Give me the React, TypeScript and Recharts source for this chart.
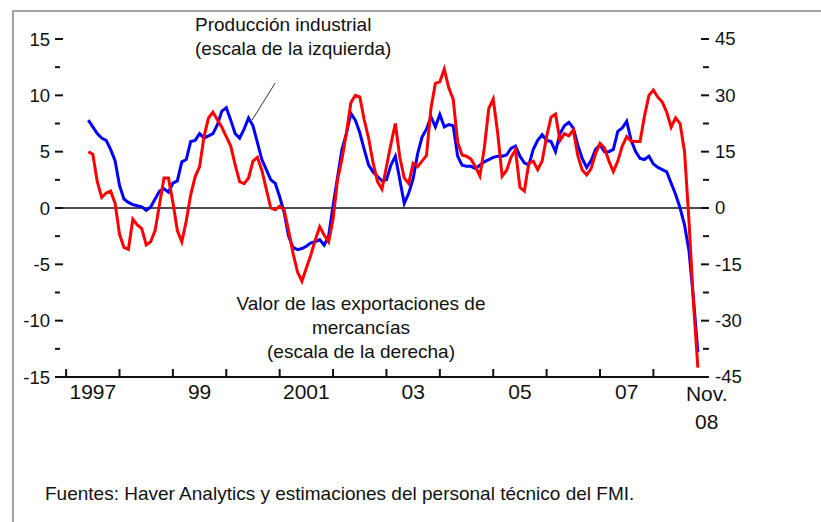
import React from 'react';
import { LineChart, Line, XAxis, YAxis, ReferenceLine } from 'recharts';

// months counted from January 1997 (0 = Jan 1997); series start in June 1997
const startMonth = 5;

// Producción industrial (escala de la izquierda), % interanual
const industrialProduction = [
  7.8, 7.2, 6.6, 6.2, 6.0, 5.2, 4.2,
  2.0, 0.8, 0.5, 0.3, 0.2, 0.1, -0.2, 0.1, 0.8, 1.5, 1.7, 1.4,
  2.2, 2.4, 4.1, 4.3, 5.9, 6.0, 6.6, 6.2, 6.4, 6.6, 7.4, 8.6,
  8.9, 7.8, 6.6, 6.2, 7.0, 8.0, 7.3, 5.8, 4.3, 3.4, 2.5, 2.2,
  1.0, -0.4, -2.5, -3.5, -3.7, -3.6, -3.4, -3.1, -3.0, -2.8, -3.3, -2.5,
  0.2, 2.7, 5.2, 6.6, 8.4, 7.8, 6.7, 5.2, 3.8, 3.2, 2.8, 2.4,
  2.5, 3.8, 4.6, 2.5, 0.4, 1.3, 2.6, 4.8, 6.3, 7.0, 8.1, 7.2,
  8.3, 7.2, 7.4, 7.3, 4.6, 3.8, 3.7, 3.7, 3.5, 3.8, 4.1, 4.3,
  4.5, 4.6, 4.6, 4.7, 5.3, 5.5, 4.6, 4.0, 3.8, 5.2, 6.0, 6.5,
  6.0, 5.9, 5.0, 6.6, 7.3, 7.6, 7.1, 5.6, 4.4, 3.6, 4.2, 5.2,
  5.6, 5.0, 5.0, 5.2, 6.8, 7.1, 7.7, 6.0, 5.0, 4.4, 4.3, 4.6,
  3.9, 3.6, 3.4, 3.2, 2.2, 1.2, 0.0, -1.5, -3.8, -8.0, -12.8,
];

// Valor de las exportaciones de mercancías (escala de la derecha)
const exportValue = [
  15.0, 14.3, 7.0, 2.8, 4.0, 4.5, 1.3,
  -7.0, -10.5, -11.0, -3.0, -4.5, -5.5, -9.8, -9.0, -6.0, 1.0, 8.0, 8.0,
  1.5, -6.0, -9.0, -3.5, 3.5, 8.3, 11.0, 19.0, 24.0, 25.5, 23.5, 21.5,
  19.0, 16.5, 11.5, 7.0, 6.5, 8.0, 12.5, 13.5, 10.0, 5.0, 0.0, -0.5,
  0.5, -0.5, -6.0, -12.0, -17.0, -19.5, -16.0, -12.5, -8.5, -5.0, -7.2, -9.0,
  -3.0, 7.5, 13.0, 20.0, 28.0, 30.0, 29.6, 23.5, 18.5, 12.0, 7.0, 5.0,
  11.0, 17.0, 22.5, 13.5, 8.0, 6.5, 11.9, 11.0, 12.5, 14.0, 26.5, 33.2,
  33.6, 37.0, 32.0, 29.0, 17.5, 14.1, 13.8, 13.0, 11.0, 8.5, 16.0, 26.5,
  29.0, 20.0, 8.5, 10.0, 13.5, 15.5, 5.5, 4.5, 12.0, 12.5, 10.2, 12.5,
  19.0, 24.2, 25.0, 18.0, 19.8, 19.2, 20.8, 14.0, 10.1, 8.8, 10.5, 14.5,
  17.2, 16.0, 12.5, 9.7, 12.5, 16.5, 19.0, 17.8, 17.7, 17.7, 24.5, 30.0,
  31.4, 29.5, 28.2, 25.5, 21.5, 24.0, 22.5, 15.0, -3.4, -25.2, -42.5,
];

// x-axis: year boundaries get tick marks, labels sit mid-year
const yearBoundaries = [0, 12, 24, 36, 48, 60, 72, 84, 96, 108, 120, 132];
const xLabels: { t: number; lines: string[] }[] = [
  { t: 6, lines: ['1997'] },
  { t: 30, lines: ['99'] },
  { t: 54, lines: ['2001'] },
  { t: 78, lines: ['03'] },
  { t: 102, lines: ['05'] },
  { t: 126, lines: ['07'] },
  { t: 144, lines: ['Nov.', '08'] },
];
const leftTicks = [-15, -12.5, -10, -7.5, -5, -2.5, 0, 2.5, 5, 7.5, 10, 12.5, 15];
const rightTicks = [-45, -37.5, -30, -22.5, -15, -7.5, 0, 7.5, 15, 22.5, 30, 37.5, 45];

const data = industrialProduction.map((v, i) => ({
  t: startMonth + i,
  ip: v,
  ex: exportValue[i],
}));

const xTickValues = Array.from(
  new Set([...yearBoundaries, ...xLabels.map((l) => l.t)])
).sort((a, b) => a - b);

const FONT = '"Liberation Sans", Arial, Helvetica, sans-serif';
const INK = '#111';

const XTick = (props: any) => {
  const { x, y, payload } = props;
  const v = payload.value;
  const isBoundary = yearBoundaries.includes(v);
  const lab = xLabels.find((l) => l.t === v);
  const twoLine = lab && lab.lines.length > 1;
  return (
    <g>
      {isBoundary && (
        <line x1={x} x2={x} y1={y} y2={y - 8} stroke={INK} strokeWidth={2} />
      )}
      {lab &&
        lab.lines.map((s, i) => (
          <text
            key={i}
            x={x}
            y={y + (twoLine ? 24 : 22) + i * 28}
            textAnchor="middle"
            fontSize={21}
            fontFamily={FONT}
            fill={INK}
          >
            {s}
          </text>
        ))}
    </g>
  );
};

const LeftTick = (props: any) => {
  const { x, y, payload } = props;
  const v = payload.value;
  const major = v % 5 === 0;
  return (
    <g>
      <line x1={x} x2={x + (major ? 8 : 5)} y1={y} y2={y} stroke={INK} strokeWidth={2} />
      {major && (
        <text x={x - 5} y={y} dy="0.36em" textAnchor="end" fontSize={18.5} fontFamily={FONT} fill={INK}>
          {String(v)}
        </text>
      )}
    </g>
  );
};

const RightTick = (props: any) => {
  const { x, y, payload } = props;
  const v = payload.value;
  const major = v % 15 === 0;
  return (
    <g>
      <line x1={x - (major ? 8 : 6)} x2={x} y1={y} y2={y} stroke={INK} strokeWidth={2} />
      {major && (
        <text x={x + 6} y={y} dy="0.34em" textAnchor="start" fontSize={18.5} fontFamily={FONT} fill={INK}>
          {String(v)}
        </text>
      )}
    </g>
  );
};

const textStyle: React.CSSProperties = {
  position: 'absolute',
  fontFamily: FONT,
  color: INK,
  whiteSpace: 'nowrap',
};

export default function App() {
  return (
    <div
      style={{
        position: 'absolute',
        left: 0,
        top: 0,
        width: 821,
        height: 522,
        overflow: 'hidden',
        background: '#fff',
      }}
    >
      <div
        style={{
          position: 'absolute',
          left: 12,
          top: 10,
          width: 840,
          height: 540,
          borderTop: '2px solid #a3a3a3',
          borderLeft: '2px solid #a3a3a3',
        }}
      />
      <div style={{ position: 'absolute', left: 0, top: 0 }}>
        <LineChart
          width={821}
          height={522}
          data={data}
          margin={{ top: 39, right: 0, left: 0, bottom: 85 }}
        >
          <XAxis
            dataKey="t"
            type="number"
            domain={[-2.5, 144.5]}
            ticks={xTickValues}
            interval={0}
            tick={<XTick />}
            tickLine={false}
            tickSize={0}
            tickMargin={0}
            axisLine={{ stroke: INK, strokeWidth: 2 }}
            height={60}
          />
          <YAxis
            yAxisId="left"
            domain={[-15, 15]}
            ticks={leftTicks}
            interval={0}
            tick={<LeftTick />}
            tickLine={false}
            tickSize={0}
            tickMargin={0}
            axisLine={false}
            width={55}
          />
          <YAxis
            yAxisId="right"
            orientation="right"
            domain={[-45, 45]}
            ticks={rightTicks}
            interval={0}
            tick={<RightTick />}
            tickLine={false}
            tickSize={0}
            tickMargin={0}
            axisLine={false}
            width={112}
          />
          <ReferenceLine yAxisId="left" y={0} stroke={INK} strokeWidth={1.5} />
          <ReferenceLine
            yAxisId="left"
            segment={[
              { x: 41.8, y: 7.8 },
              { x: 47, y: 11.1 },
            ]}
            stroke="#333"
            strokeWidth={1}
          />
          <Line
            yAxisId="left"
            dataKey="ip"
            type="linear"
            stroke="#0000ff"
            strokeWidth={3}
            dot={false}
            isAnimationActive={false}
          />
          <Line
            yAxisId="right"
            dataKey="ex"
            type="linear"
            stroke="#ff0000"
            strokeWidth={3}
            dot={false}
            isAnimationActive={false}
          />
        </LineChart>
      </div>
      <div style={{ ...textStyle, left: 195, top: 13, fontSize: 19, lineHeight: '24px', textAlign: 'left' }}>
        Producción industrial
        <br />
        (escala de la izquierda)
      </div>
      <div style={{ ...textStyle, left: 211, top: 292, width: 300, fontSize: 19, lineHeight: '24px', textAlign: 'center' }}>
        Valor de las exportaciones de
        <br />
        mercancías
        <br />
        (escala de la derecha)
      </div>
      <div style={{ ...textStyle, left: 45, top: 483, textAlign: 'left', fontSize: 19 }}>
        Fuentes: Haver Analytics y estimaciones del personal técnico del FMI.
      </div>
    </div>
  );
}
